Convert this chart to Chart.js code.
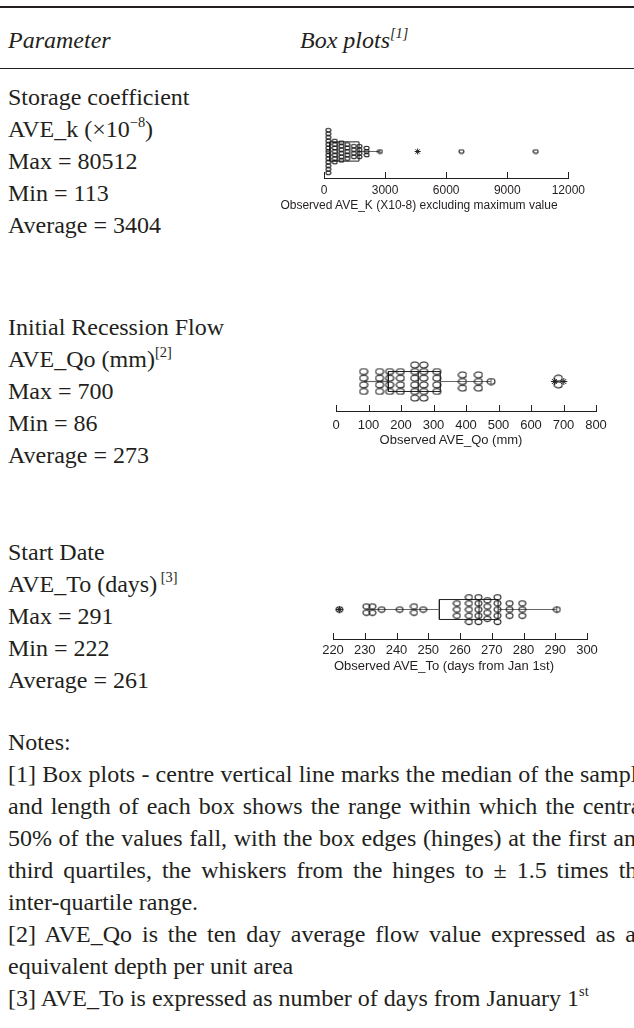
<!DOCTYPE html>
<html>
<head>
<meta charset="utf-8">
<script src="https://cdn.jsdelivr.net/npm/chart.js@4/dist/chart.umd.min.js"></script>
<style>
  html, body { margin: 0; padding: 0; background: #fff; }
  body { width: 634px; height: 1028px; position: relative; overflow: hidden;
         font-family: "Liberation Serif", "Times New Roman", serif; color: #231f20; }
  .rule { position: absolute; left: 0; width: 634px; background: #231f20; }
  .t { position: absolute; left: 8px; font-size: 24px; line-height: 32px; white-space: nowrap; }
  .hdr { font-style: italic; }
  sup { font-size: 0.6em; line-height: 0; position: relative; top: -0.1em; vertical-align: super; }
  .plot { position: absolute; }
  .atitle { position: absolute; font-family: "Liberation Sans", Arial, sans-serif;
            line-height: 14px; white-space: nowrap; color: #231f20; transform: translateX(-50%); }
  .notes { position: absolute; left: 8px; top: 726px; width: 640px; font-size: 24px; line-height: 32px; }
  .notes div { white-space: nowrap; }
  .notes .j { text-align: justify; text-align-last: justify; white-space: normal; }
</style>
</head>
<body>
<div class="rule" style="top:6px;height:2px"></div>
<div class="t hdr" style="top:24px">Parameter</div>
<div class="t hdr" style="top:24px;left:300px">Box plots<sup>[1]</sup></div>
<div class="rule" style="top:68px;height:1px"></div>

<div class="t" style="top:81px">Storage coefficient<br>AVE_k (×10<sup>−8</sup>)<br>Max = 80512<br>Min = 113<br>Average = 3404</div>
<div class="t" style="top:311px">Initial Recession Flow<br>AVE_Qo (mm)<sup>[2]</sup><br>Max = 700<br>Min = 86<br>Average = 273</div>
<div class="t" style="top:536px">Start Date<br>AVE_To (days)<sup> [3]</sup><br>Max = 291<br>Min = 222<br>Average = 261</div>

<canvas id="plotK" class="plot" style="left:304px;top:120px" width="286" height="82"></canvas>
<canvas id="plotQ" class="plot" style="left:316px;top:347px" width="300" height="90"></canvas>
<canvas id="plotT" class="plot" style="left:313px;top:575px" width="294" height="88"></canvas>
<div class="atitle" style="left:419px;top:198px;font-size:12px">Observed AVE_K (X10-8) excluding maximum value</div>
<div class="atitle" style="left:451px;top:433px;font-size:13px">Observed AVE_Qo (mm)</div>
<div class="atitle" style="left:444px;top:659px;font-size:13px">Observed AVE_To (days from Jan 1st)</div>

<div class="notes">
  <div>Notes:</div>
  <div class="j">[1] Box plots - centre vertical line marks the median of the sample</div>
  <div class="j">and length of each box shows the range within which the central</div>
  <div class="j">50% of the values fall, with the box edges (hinges) at the first and</div>
  <div class="j">third quartiles, the whiskers from the hinges to ± 1.5 times the</div>
  <div>inter-quartile range.</div>
  <div class="j">[2] AVE_Qo is the ten day average flow value expressed as an</div>
  <div>equivalent depth per unit area</div>
  <div>[3] AVE_To is expressed as number of days from January 1<sup>st</sup></div>
</div>

<script>
// ---- Storage coefficient AVE_k (x10^-8), maximum value left out ----
const kDotValues   = [210, 530, 855, 1145, 1465, 1740, 2095, 2750];
const kDotCounts   = [13, 7, 6, 5, 4, 4, 3, 1];
const kNearOut     = [4600];          // drawn with '*'
const kFarOut      = [6750, 10400];   // drawn with 'o'
const kBox         = { lo: 113, q1: 280, med: 680, q3: 1720, hi: 2750 };
const kTicks       = [0, 3000, 6000, 9000, 12000];

// ---- Initial recession flow AVE_Qo (mm) ----
const qDotValues   = [85, 134, 165, 198, 242, 270, 310, 389, 438, 477, 684];
const qDotCounts   = [4, 4, 4, 4, 6, 6, 4, 3, 3, 1, 2];
const qNearOut     = [672, 701];
const qFarOut      = [];
const qBox         = { lo: 86, q1: 161, med: 253, q3: 321, hi: 477 };
const qTicks       = [0, 100, 200, 300, 400, 500, 600, 700, 800];

// ---- Start date AVE_To (days from Jan 1st) ----
const tDotValues   = [222, 230.5, 232.4, 235.3, 241, 245.5, 248.4, 259, 262.8, 265.8, 268.6, 271.8, 275.6, 279.6, 290.5];
const tDotCounts   = [1, 2, 2, 1, 1, 2, 1, 3, 5, 5, 4, 5, 3, 3, 1];
const tNearOut     = [222];
const tFarOut      = [];
const tBox         = { lo: 230.5, q1: 253.5, med: 266, q3: 272, hi: 290.5 };
const tTicks       = [220, 230, 240, 250, 260, 270, 280, 290, 300];

const INK = '#231f20';
const WHISKER = '#666666';

// open ellipse used for the dot-plot symbols
function ellipseSymbol(w, h) {
  const c = document.createElement('canvas');
  c.width = Math.ceil(w) + 2; c.height = Math.ceil(h) + 2;
  const g = c.getContext('2d');
  g.strokeStyle = '#151515';
  g.lineWidth = 1.05;
  g.beginPath();
  g.ellipse(c.width / 2, c.height / 2, w / 2, h / 2, 0, 0, Math.PI * 2);
  g.stroke();
  return c;
}

// stack repeated values vertically around the centre line
function stackDots(values, counts) {
  const pts = [];
  values.forEach((v, i) => {
    const n = counts[i];
    for (let j = 0; j < n; j++) pts.push({ x: v, y: j - (n - 1) / 2 });
  });
  return pts;
}

// tick marks pointing up from the axis line
const innerTicks = {
  id: 'innerTicks',
  afterDraw(chart) {
    const sx = chart.scales.x, ctx = chart.ctx, y = chart.chartArea.bottom;
    ctx.save();
    ctx.strokeStyle = INK; ctx.lineWidth = 1;
    sx.ticks.forEach(t => {
      const x = Math.round(sx.getPixelForValue(t.value)) + 0.5;
      ctx.beginPath(); ctx.moveTo(x, y); ctx.lineTo(x, y - 6); ctx.stroke();
    });
    ctx.restore();
  }
};

function lineSet(points, color, width) {
  return { data: points, showLine: true, borderColor: color, borderWidth: width,
           pointRadius: 0, fill: false, tension: 0, order: 2 };
}

function boxPlot(id, o) {
  const b = o.box, h = o.boxHalf;
  const datasets = [
    lineSet([{x: b.lo, y: 0}, {x: b.q1, y: 0}], WHISKER, 1.2),
    lineSet([{x: b.q3, y: 0}, {x: b.hi, y: 0}], WHISKER, 1.2),
    lineSet([{x: b.hi, y: -0.5}, {x: b.hi, y: 0.5}], WHISKER, 1),
    lineSet([{x: b.q1, y: -h}, {x: b.q3, y: -h}, {x: b.q3, y: h}, {x: b.q1, y: h}, {x: b.q1, y: -h}], INK, 1),
    lineSet([{x: b.med, y: -h}, {x: b.med, y: h}], INK, 1),
    { data: stackDots(o.values, o.counts), pointStyle: ellipseSymbol(o.dotW, o.dotH),
      pointRadius: o.dotW / 2, order: 1 },
    { data: o.near.map(v => ({x: v, y: 0})), pointStyle: 'star', pointRadius: o.starR,
      borderColor: INK, borderWidth: 1, order: 0 },
    { data: o.far.map(v => ({x: v, y: 0})), pointStyle: ellipseSymbol(o.dotW, o.dotH),
      pointRadius: o.dotW / 2, order: 0 }
  ];
  return new Chart(document.getElementById(id), {
    type: 'scatter',
    data: { datasets },
    options: {
      responsive: false, animation: false, events: [],
      layout: { padding: { left: 20, right: 20, top: 0, bottom: 0 } },
      plugins: { legend: { display: false }, tooltip: { enabled: false } },
      scales: {
        x: {
          type: 'linear', min: o.ticks[0], max: o.ticks[o.ticks.length - 1],
          afterBuildTicks: s => { s.ticks = o.ticks.map(v => ({ value: v })); },
          afterFit: s => { s.height = o.axisH; },
          grid: { display: false, drawTicks: false },
          border: { display: true, color: INK, width: 1 },
          ticks: { color: INK, padding: o.labelPad, maxRotation: 0, autoSkip: false,
                   callback: v => String(v),
                   font: { family: '"Liberation Sans", Arial, sans-serif', size: o.labelSize } }
        },
        y: { type: 'linear', display: false, min: -o.yHalf, max: o.yHalf }
      }
    },
    plugins: [innerTicks]
  });
}

boxPlot('plotK', { values: kDotValues, counts: kDotCounts, near: kNearOut, far: kFarOut,
  box: kBox, ticks: kTicks, boxHalf: 2.7, yHalf: 7.44, dotW: 5, dotH: 3.6, starR: 3,
  labelPad: 5, labelSize: 12, axisH: 24 });
boxPlot('plotQ', { values: qDotValues, counts: qDotCounts, near: qNearOut, far: qFarOut,
  box: qBox, ticks: qTicks, boxHalf: 1.5, yHalf: 4.44, dotW: 8, dotH: 6, starR: 3.5,
  labelPad: 7, labelSize: 13, axisH: 26 });
boxPlot('plotT', { values: tDotValues, counts: tDotCounts, near: tNearOut, far: tFarOut,
  box: tBox, ticks: tTicks, boxHalf: 1.62, yHalf: 4.8, dotW: 7, dotH: 5.2, starR: 3.5,
  labelPad: 4, labelSize: 13, axisH: 24 });
</script>
</body>
</html>
